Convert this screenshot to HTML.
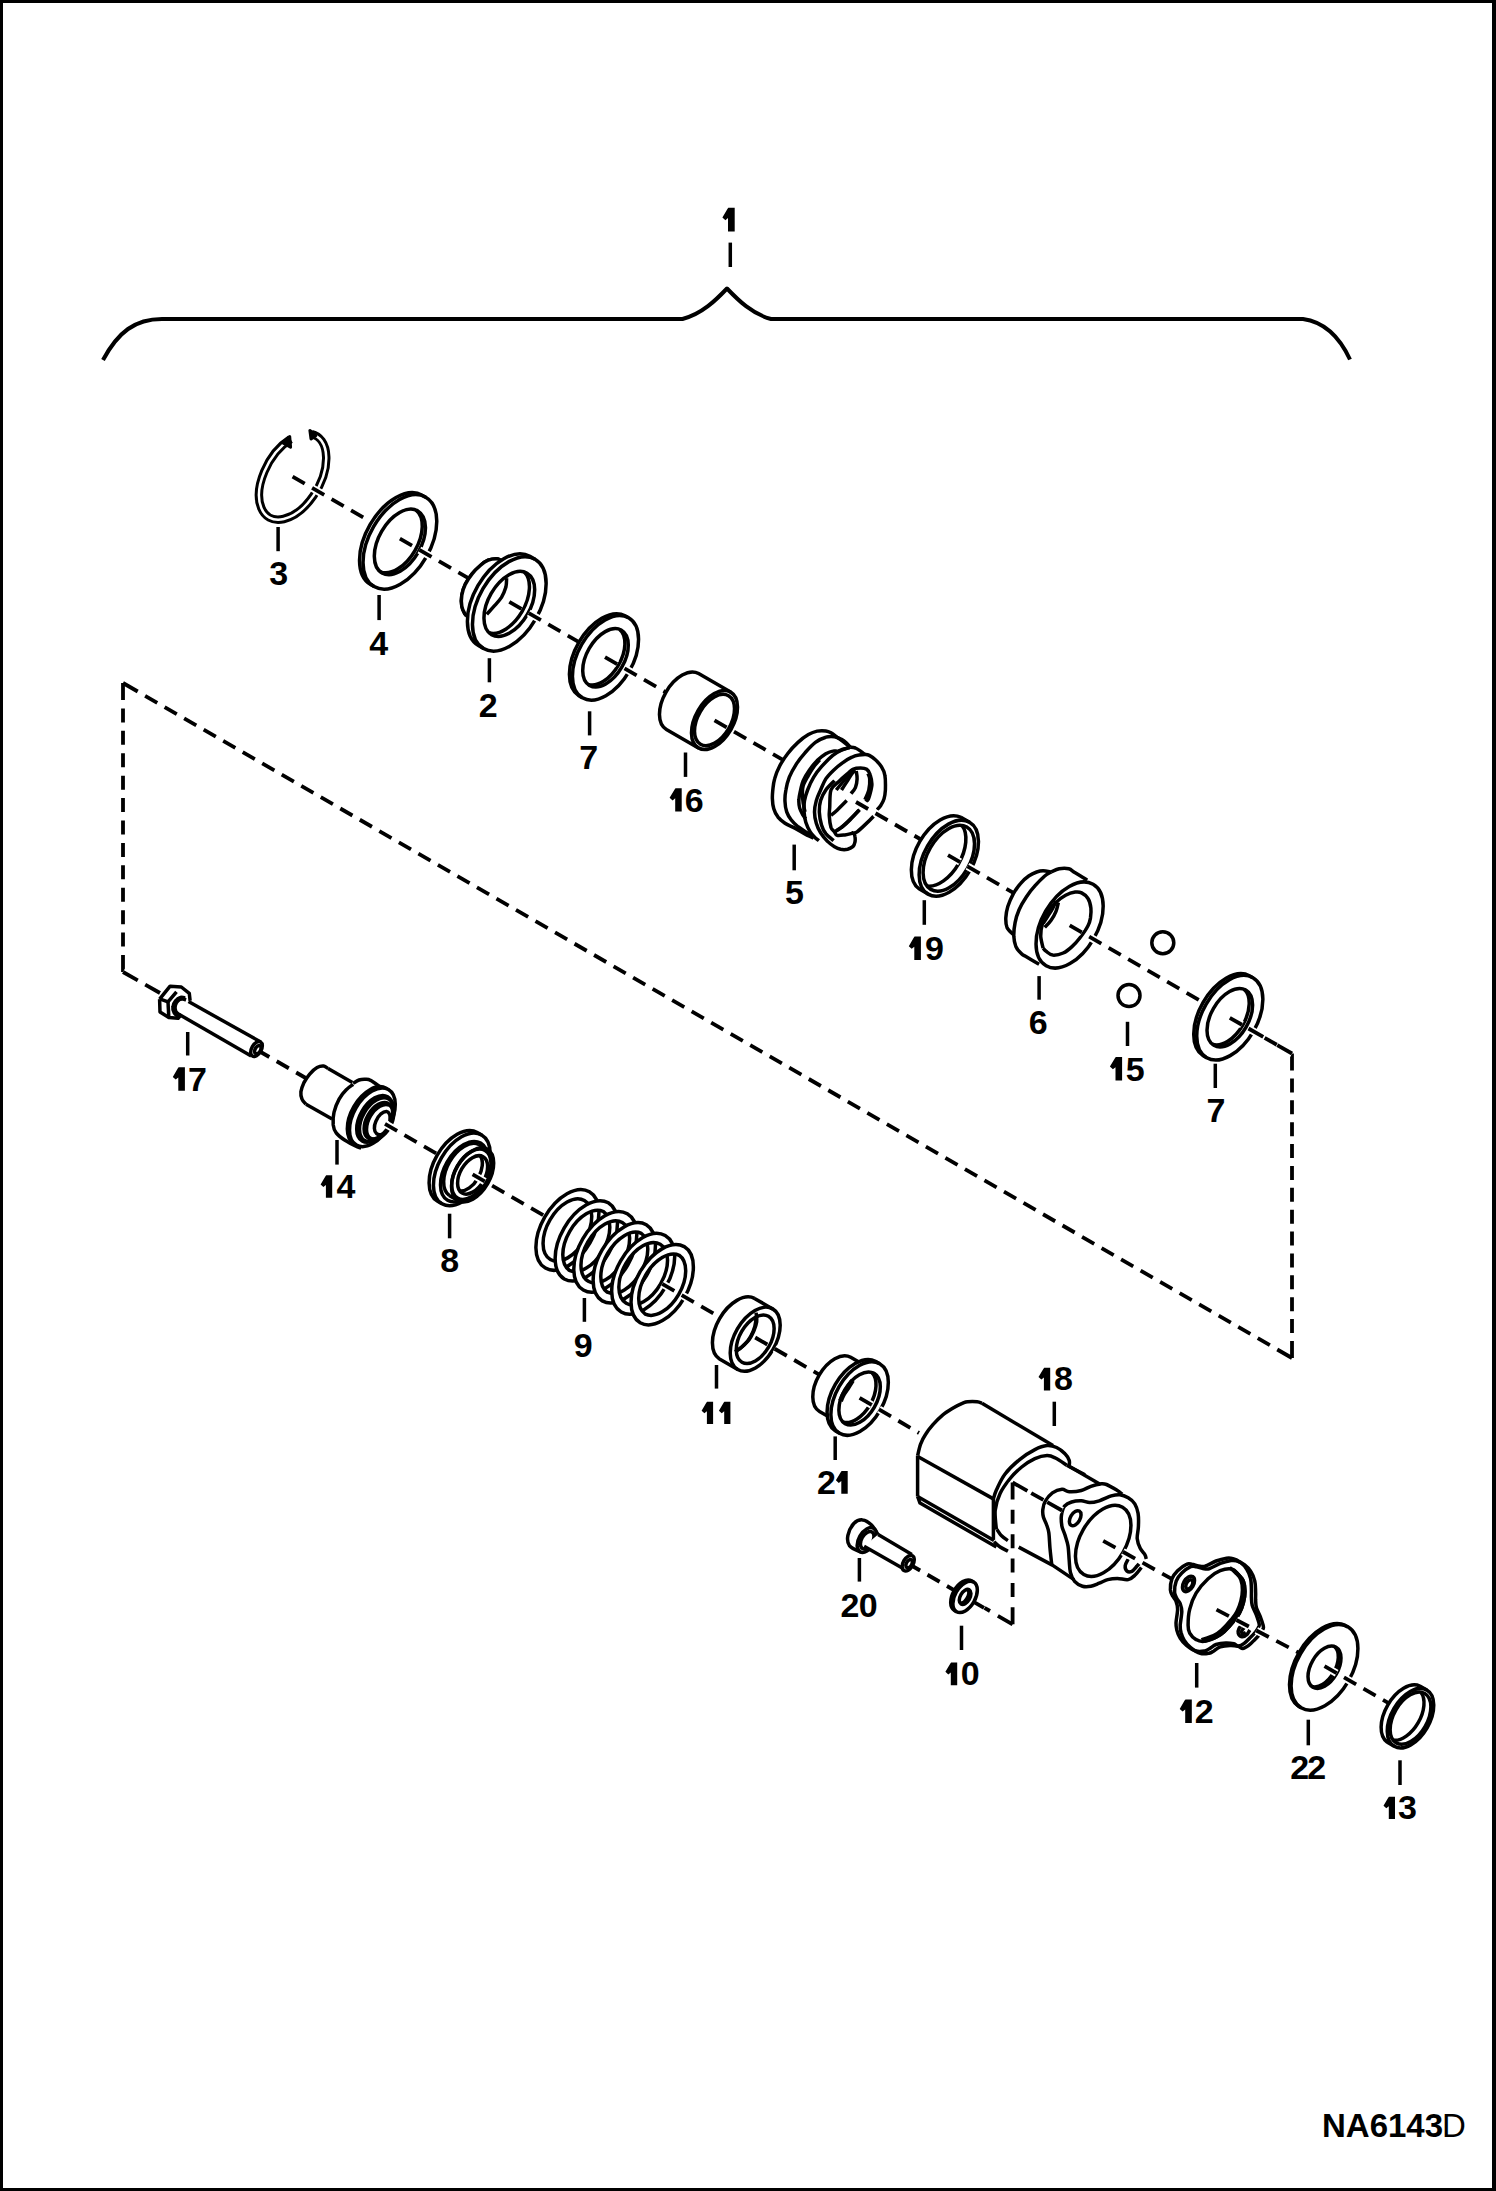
<!DOCTYPE html><html><head><meta charset="utf-8"><style>html,body{margin:0;padding:0;background:#fff}svg{display:block}.d{fill:none;stroke:#000;stroke-width:3.8;stroke-dasharray:14 8.5}.dh{fill:none;stroke:#fff;stroke-width:7.5;stroke-dasharray:14 8.5;}text{font-family:"Liberation Sans",sans-serif;font-weight:bold;font-size:34px;text-anchor:middle;fill:#000;stroke:none}</style></head><body>
<svg width="1496" height="2191" viewBox="0 0 1496 2191">
<rect x="0" y="0" width="1496" height="2191" fill="#fff"/>
<g fill="none" stroke="#000" stroke-width="3.5" stroke-linecap="butt" stroke-linejoin="round">
<path d="M0,0H1496V2191H0Z M3,3V2188H1492V3Z" fill="#000" fill-rule="evenodd" stroke="none"/>
<path stroke-width="4" d="M103,360C118,332 135,319 162,319H682.5C702,314 716,300 727,288.5C738,300 752,314 771,319H1303C1325,322 1340,338 1350,359.5"/>
<path class="dh" d="M123,972L123,683" style="stroke-dasharray:17.00 8.42 14.00 8.42 14.00 8.42 14.00 8.42 14.00 8.42 14.00 8.42 14.00 8.42 14.00 8.42 14.00 8.42 14.00 8.42 14.00 8.42 14.00 8.42 17.00 200.00;stroke-dashoffset:0"/><path class="dh" d="M123,683L1292,1358" style="stroke-dasharray:17.00 8.54 14.00 8.54 14.00 8.54 14.00 8.54 14.00 8.54 14.00 8.54 14.00 8.54 14.00 8.54 14.00 8.54 14.00 8.54 14.00 8.54 14.00 8.54 14.00 8.54 14.00 8.54 14.00 8.54 14.00 8.54 14.00 8.54 14.00 8.54 14.00 8.54 14.00 8.54 14.00 8.54 14.00 8.54 14.00 8.54 14.00 8.54 14.00 8.54 14.00 8.54 14.00 8.54 14.00 8.54 14.00 8.54 14.00 8.54 14.00 8.54 14.00 8.54 14.00 8.54 14.00 8.54 14.00 8.54 14.00 8.54 14.00 8.54 14.00 8.54 14.00 8.54 14.00 8.54 14.00 8.54 14.00 8.54 14.00 8.54 14.00 8.54 14.00 8.54 14.00 8.54 14.00 8.54 14.00 8.54 14.00 8.54 14.00 8.54 14.00 8.54 14.00 8.54 14.00 8.54 14.00 8.54 14.00 8.54 14.00 8.54 14.00 8.54 14.00 8.54 14.00 8.54 17.00 200.00;stroke-dashoffset:0"/><path class="dh" d="M1292,1358L1292,1053.5" style="stroke-dasharray:17.00 7.88 14.00 7.88 14.00 7.88 14.00 7.88 14.00 7.88 14.00 7.88 14.00 7.88 14.00 7.88 14.00 7.88 14.00 7.88 14.00 7.88 14.00 7.88 14.00 7.88 17.00 200.00;stroke-dashoffset:0"/><path class="d" d="M123,972L123,683" style="stroke-dasharray:17.00 8.42 14.00 8.42 14.00 8.42 14.00 8.42 14.00 8.42 14.00 8.42 14.00 8.42 14.00 8.42 14.00 8.42 14.00 8.42 14.00 8.42 14.00 8.42 17.00 200.00;stroke-dashoffset:0"/><path class="d" d="M123,683L1292,1358" style="stroke-dasharray:17.00 8.54 14.00 8.54 14.00 8.54 14.00 8.54 14.00 8.54 14.00 8.54 14.00 8.54 14.00 8.54 14.00 8.54 14.00 8.54 14.00 8.54 14.00 8.54 14.00 8.54 14.00 8.54 14.00 8.54 14.00 8.54 14.00 8.54 14.00 8.54 14.00 8.54 14.00 8.54 14.00 8.54 14.00 8.54 14.00 8.54 14.00 8.54 14.00 8.54 14.00 8.54 14.00 8.54 14.00 8.54 14.00 8.54 14.00 8.54 14.00 8.54 14.00 8.54 14.00 8.54 14.00 8.54 14.00 8.54 14.00 8.54 14.00 8.54 14.00 8.54 14.00 8.54 14.00 8.54 14.00 8.54 14.00 8.54 14.00 8.54 14.00 8.54 14.00 8.54 14.00 8.54 14.00 8.54 14.00 8.54 14.00 8.54 14.00 8.54 14.00 8.54 14.00 8.54 14.00 8.54 14.00 8.54 14.00 8.54 14.00 8.54 14.00 8.54 14.00 8.54 14.00 8.54 17.00 200.00;stroke-dashoffset:0"/><path class="d" d="M1292,1358L1292,1053.5" style="stroke-dasharray:17.00 7.88 14.00 7.88 14.00 7.88 14.00 7.88 14.00 7.88 14.00 7.88 14.00 7.88 14.00 7.88 14.00 7.88 14.00 7.88 14.00 7.88 14.00 7.88 14.00 7.88 17.00 200.00;stroke-dashoffset:0"/>
<path d="M311.6,434.2A47 27.7 -60 1 1 290.5,439.2" stroke-width="8.5"/>
<path d="M311.6,434.2A47 27.7 -60 1 1 290.5,439.2" stroke="#fff" stroke-width="2.5"/>
<path d="M282.9,442.9L289.7,436.5L290.6,447.2Z" stroke-width="3" fill="#000"/>
<path d="M309.9,430.5L311,438.9L315.8,435.7Z" stroke-width="3" fill="#000"/>
<path class="dh" d="M292.6,476.7L400.5,539"/><path class="d" d="M292.6,476.7L400.5,539" />
<path d="M425.7,497.2A51.6 30.4 -60 0 1 374.1,586.6L370.6,584.6A51.6 30.4 -60 0 1 422.2,495.2Z" fill="#fff" stroke="none"/><path d="M370.6,584.6A51.6 30.4 -60 0 1 422.2,495.2M425.7,497.2L422.2,495.2M374.1,586.6L370.6,584.6" /><ellipse cx="399.9" cy="541.9" rx="51.6" ry="30.4" transform="rotate(-60 399.9 541.9)" /><ellipse cx="399.9" cy="541.9" rx="35.8" ry="21.1" transform="rotate(-60 399.9 541.9)" /><path d="M416,510A35.8 21.1 -60 0 1 380.3,571.8" />
<path class="dh" d="M399.9,538.7L510,602.2"/><path class="d" d="M399.9,538.7L510,602.2" />
<path d="M501.5,560.2C500.6,560 498.5,558.8 496.3,558.8C494.1,558.8 490.8,559.2 488.2,560.2C485.7,561.3 483.6,562.7 480.9,565C478.2,567.3 474.6,570.6 472.1,573.8C469.5,577 467.2,580.6 465.4,584.1C463.7,587.7 462.4,591.5 461.8,595.1C461.2,598.8 461.3,603.1 461.8,606.2C462.3,609.2 463.6,611.7 464.7,613.5C465.8,615.4 467.8,616.6 468.4,617.2" />
<path d="M501.5,560.2C501.8,554.8 498.5,558.8 496.3,558.8C494.1,558.8 490.8,559.2 488.2,560.2C485.7,561.3 483.6,562.7 480.9,565C478.2,567.3 474.6,570.6 472.1,573.8C469.5,577 467.2,580.6 465.4,584.1C463.7,587.7 462.4,591.5 461.8,595.1C461.2,598.8 461.3,603.1 461.8,606.2C462.3,609.2 463.6,611.7 464.7,613.5C465.8,615.4 463.5,620.9 468.4,617.2C473.3,613.5 488.6,601 494.1,591.5C499.6,582 501.1,565.7 501.5,560.2Z" fill="#fff" stroke="none"/>
<path d="M501.5,560.2C500.6,560 498.5,558.8 496.3,558.8C494.1,558.8 490.8,559.2 488.2,560.2C485.7,561.3 483.6,562.7 480.9,565C478.2,567.3 474.6,570.6 472.1,573.8C469.5,577 467.2,580.6 465.4,584.1C463.7,587.7 462.4,591.5 461.8,595.1C461.2,598.8 461.3,603.1 461.8,606.2C462.3,609.2 463.6,611.7 464.7,613.5C465.8,615.4 467.8,616.6 468.4,617.2" />
<path d="M535,559.3A51.5 30.4 -60 0 1 483.6,648.5L478.4,645.5A51.5 30.4 -60 0 1 529.9,556.3Z" fill="#fff" stroke="none"/><path d="M478.4,645.5A51.5 30.4 -60 0 1 529.9,556.3M535,559.3L529.9,556.3M483.6,648.5L478.4,645.5" /><ellipse cx="509.3" cy="603.9" rx="51.5" ry="30.4" transform="rotate(-60 509.3 603.9)" /><ellipse cx="509.3" cy="603.9" rx="35.5" ry="20.9" transform="rotate(-60 509.3 603.9)" /><path d="M524.3,572A35.5 20.9 -60 0 1 489.1,632.8" />
<path d="M506.6,578.2C506.5,579.7 506.7,583.9 505.9,587.1C505,590.2 503.4,594.2 501.5,597.4C499.5,600.5 496.6,603.4 494.1,606.2C491.7,609 488,612.9 486.8,614.3" />
<path class="dh" d="M509.3,601.8L605.5,657.4"/><path class="d" d="M509.3,601.8L605.5,657.4" />
<path d="M628.6,617.8A46.2 27.3 -60 0 1 582.4,697.8L578.9,695.8A46.2 27.3 -60 0 1 625.1,615.8Z" fill="#fff" stroke="none"/><path d="M578.9,695.8A46.2 27.3 -60 0 1 625.1,615.8M628.6,617.8L625.1,615.8M582.4,697.8L578.9,695.8" /><ellipse cx="605.5" cy="657.8" rx="46.2" ry="27.3" transform="rotate(-60 605.5 657.8)" /><ellipse cx="605.5" cy="657.8" rx="31.9" ry="18.8" transform="rotate(-60 605.5 657.8)" /><path d="M619.6,629.3A31.9 18.8 -60 0 1 587.9,684.3" />
<path class="dh" d="M605,657.1L715,720.6"/><path class="d" d="M605,657.1L715,720.6" />
<path d="M730.6,692.1A32.2 19 -60 0 1 698.4,747.9L666.4,729.4A32.2 19 -60 0 1 698.6,673.6Z" fill="#fff" stroke="none"/><path d="M666.4,729.4A32.2 19 -60 0 1 698.6,673.6M730.6,692.1L698.6,673.6M698.4,747.9L666.4,729.4" /><ellipse cx="714.5" cy="720" rx="32.2" ry="19" transform="rotate(-60 714.5 720)" /><ellipse cx="714.5" cy="720" rx="28" ry="16.5" transform="rotate(-60 714.5 720)" /><path d="M696.8,709.8A28 16.5 -60 0 0 696.8,709.8" />
<path class="dh" d="M714.5,720.3L860,804.3"/><path class="d" d="M714.5,720.3L860,804.3" />
<path d="M850.2,747.2L843.2,741.5L837.1,737.2L831,732.8L825.8,730.9L817.1,731.1L808.4,734.6L798,742.4L787.6,753.7L779.8,765.8L774.6,778.9L772.8,790L772.4,798.9L773.7,808.4L778,817.1L785,823.2L792.8,827.1L799.8,831L807.6,835.4L813.7,838L827.6,841.4L834.5,846.7L840.6,849.3L847.6,849.3L852.8,846.7L854.9,842.3L854.9,836.2L864.9,824.9L873.6,816.2L880.6,805.8L884,798.9L885.4,790L884.9,775.4L881.4,766.7L875.4,759.8L869.3,755.4L864.9,754.5L860.6,751.1L855.4,748Z" fill="#fff" stroke="none"/>
<path d="M813.7,838C812.6,837.5 809.9,836.5 807.6,835.4C805.3,834.2 802.2,832.4 799.8,831C797.3,829.6 795.3,828.4 792.8,827.1C790.3,825.8 787.4,824.9 785,823.2C782.5,821.5 779.9,819.6 778,817.1C776.2,814.6 774.6,811.5 773.7,808.4C772.7,805.4 772.5,801.9 772.4,798.9C772.2,795.8 772.5,793.3 772.8,790C773.2,786.7 773.4,782.9 774.6,778.9C775.7,774.8 777.6,770 779.8,765.8C781.9,761.6 784.6,757.6 787.6,753.7C790.6,749.8 794.5,745.6 798,742.4C801.5,739.2 805.3,736.4 808.4,734.6C811.6,732.7 814.2,731.7 817.1,731.1C820,730.5 823.5,730.6 825.8,730.9C828.1,731.2 829.2,731.8 831,732.8C832.9,733.9 835.1,735.7 837.1,737.2C839.2,738.6 841,739.8 843.2,741.5C845.4,743.2 849,746.2 850.2,747.2" />
<path d="M811.1,835.4C810.2,834.8 808,833.3 805.8,831.9C803.7,830.4 800.5,828.7 798,826.7C795.6,824.6 793,822.2 791.1,819.7C789.2,817.3 787.7,814.9 786.7,811.9C785.7,808.9 785.1,805.1 785,801.5C784.8,797.8 785.1,794.1 785.9,790C786.6,785.9 787.6,781.5 789.3,777.1C791.1,772.8 793.7,768.2 796.3,764.1C798.9,760 801.8,756.4 805,752.8C808.2,749.2 811.9,745 815.4,742.4C818.9,739.8 822.6,738.1 825.8,737.2C829,736.2 831.9,736.4 834.5,736.7C837.1,737.1 839.4,738.3 841.5,739.3C843.5,740.4 845.2,741.9 846.7,743.2C848.1,744.6 849.6,746.5 850.2,747.2" />
<path d="M850.2,747.2C851,747.3 853.6,747.4 855.4,748C857.1,748.7 859,750 860.6,751.1C862.2,752.2 864.2,754 864.9,754.5" />
<path d="M805.8,818.8C805.4,818.3 804.2,817.1 803.2,815.4C802.2,813.6 800.5,811 799.8,808.4C799,805.8 798.7,802.8 798.9,799.7C799,796.7 799.9,793.2 800.6,790C801.4,786.8 801.8,783.9 803.2,780.6C804.7,777.3 807,773.5 809.3,770.2C811.6,766.9 814.4,763.4 817.1,760.6C819.9,757.9 823.2,755.3 825.8,753.7C828.4,752.1 830.8,751.5 832.8,751.1C834.8,750.6 836.3,751.4 838,751.1C839.7,750.8 841.2,749.9 843.2,749.3C845.2,748.7 849,747.7 850.2,747.4" />
<path d="M805,811.9C804.7,810.4 803.7,806.1 803.2,803.2C802.8,800.3 802.4,797.4 802.4,794.5C802.4,791.6 802.2,789 803.2,785.8C804.2,782.6 806.6,778.7 808.4,775.4C810.3,772.1 812.6,768.4 814.5,765.8C816.4,763.2 818.9,760.8 819.7,759.8" />
<path d="M818.9,840.6C818.3,840.1 816.8,839.4 815.4,838C814,836.5 811.8,834.5 810.2,831.9C808.6,829.3 806.9,825.7 805.8,822.3C804.8,819 804.3,815.5 804.1,811.9C803.9,808.3 804,804.2 804.5,800.6C805.1,796.9 806.1,793.9 807.6,790C809.1,786.1 811.3,781 813.7,777.1C816,773.3 818.3,770.3 821.5,766.7C824.7,763.1 829.4,758.2 832.8,755.4C836.1,752.7 838.7,751.5 841.5,750.2C844.2,748.9 848,748 849.3,747.6" />
<path d="M853.6,832.8C853.9,833.3 854.7,834.6 854.9,836.2C855.2,837.8 855.3,840.6 854.9,842.3C854.6,844 854,845.5 852.8,846.7C851.5,847.8 849.6,848.8 847.6,849.3C845.5,849.7 842.8,849.7 840.6,849.3C838.4,848.8 836.7,848 834.5,846.7C832.3,845.4 829.9,843.8 827.6,841.4C825.2,839.1 822.5,835.8 820.6,832.8C818.7,829.7 817.3,826.7 816.3,823.2C815.3,819.7 814.5,815.7 814.5,811.9C814.5,808.1 815.3,804.2 816.3,800.6C817.3,796.9 819,793.6 820.6,790C822.2,786.4 823.7,782.2 825.8,778.9C828,775.6 830.8,772.9 833.6,770.2C836.5,767.4 840.2,764.5 843.2,762.4C846.2,760.2 849.3,758.4 851.9,757.2C854.5,755.9 856.7,755.4 858.8,755C861,754.5 863.2,754.5 864.9,754.5C866.7,754.6 867.5,754.5 869.3,755.4C871,756.3 873.3,757.9 875.4,759.8C877.4,761.6 879.8,764.1 881.4,766.7C883,769.3 884.3,771.5 884.9,775.4C885.6,779.3 885.5,786.1 885.4,790C885.2,793.9 884.8,796.2 884,798.9C883.3,801.5 881.7,804 880.6,805.8C879.4,807.6 877.7,809.1 877.1,809.7" />
<path d="M833.6,840.6C832.3,839.4 827.9,836.2 825.8,833.6C823.8,831 822.6,828.6 821.5,824.9C820.4,821.3 819.5,816 819.3,811.9C819.2,807.8 819.5,804.2 820.6,800.6C821.7,796.9 823.5,793.3 825.8,790C828.1,786.7 833.1,782.2 834.5,780.6" />
<path d="M873.6,816.2C872.2,817.7 867.7,822.3 864.9,824.9C862.2,827.5 859,830.5 857.1,831.9C855.2,833.3 854.5,833 853.6,833.2C852.8,833.3 852.2,832.8 851.9,832.8" />
<path d="M865.8,801.5C866.2,801 867.5,800.8 868.4,798.9C869.3,796.9 870.4,792.5 871,790C871.6,787.5 872,786.7 871.9,784.1C871.7,781.5 871,777 870.1,774.5C869.3,772.1 868.3,770.4 866.7,769.3C865.1,768.2 862.9,768 860.6,768C858.3,768 854.9,768.4 852.8,769.3C850.6,770.3 849.9,771.6 847.6,773.7C845.2,775.7 841.6,778.8 838.9,781.5C836.1,784.2 832.6,785.7 831,790C829.5,794.3 830,803.2 829.7,807.6C829.4,811.9 829.1,812.9 829.3,816.2C829.5,819.6 830.2,824.9 831,827.5C831.9,830.1 833.5,830.6 834.5,831.9C835.5,833.2 835.4,834.9 837.1,835.4C838.9,835.9 842.6,835.2 844.9,834.9C847.3,834.6 849.6,834 851,833.6C852.5,833.3 853.2,832.9 853.6,832.8" />
<path d="M834.5,831.9C835.7,831.2 838.9,829.6 841.5,827.5C844.1,825.5 847.3,822.6 850.2,819.7C853.1,816.8 857.4,811.8 858.8,810.2" />
<path d="M836.3,830.6C837.4,829.8 840.6,828 843.2,825.8C845.8,823.6 849.1,820.2 851.9,817.5C854.6,814.9 858.4,811 859.7,809.7" />
<path d="M836.3,790C837.4,788.6 840.7,784.5 843.2,781.5C845.7,778.5 849.3,774 851,771.9C852.8,769.9 853.2,769.8 853.6,769.3" />
<path d="M841.5,790C842.5,788.4 845.8,783.3 847.6,780.6C849.3,777.9 850.6,775.4 851.9,773.7C853.2,771.9 854.8,770.8 855.4,770.2" />
<path d="M851,793.6C851.8,792.6 854.4,790 855.4,787.6C856.4,785.1 857,781.6 857.1,778.9C857.3,776.1 856.4,772.4 856.2,771.1" />
<path d="M831,815.4C832.1,814.5 834.5,812.6 837.1,810.2C839.7,807.7 845.1,802.2 846.7,800.6" />
<path d="M864.9,799.7C865.6,798.1 868,793.6 868.8,790.2C869.6,786.7 869.9,781.6 869.7,778.9C869.6,776.1 868.3,774.5 868,773.7" />
<path class="dh" d="M856,802L945,853.4"/><path class="d" d="M856,802L945,853.4" />
<path d="M969.5,822.3A41.5 24.5 -60 0 1 928,894.1L919.4,889.1A41.5 24.5 -60 0 1 960.9,817.3Z" fill="#fff" stroke="none"/><path d="M919.4,889.1A41.5 24.5 -60 0 1 960.9,817.3M969.5,822.3L960.9,817.3M928,894.1L919.4,889.1" /><ellipse cx="948.8" cy="858.2" rx="41.5" ry="24.5" transform="rotate(-60 948.8 858.2)" /><ellipse cx="948.8" cy="858.2" rx="36" ry="21.2" transform="rotate(-60 948.8 858.2)" /><path d="M962,825.4A36 21.2 -60 0 1 927,886" />
<path class="dh" d="M948,855.1L1069.7,925.4"/><path class="d" d="M948,855.1L1069.7,925.4" />
<path d="M1051.1,872L1043.1,870.8L1036.7,872L1028.7,876L1020.7,883.3L1013.4,893.7L1007.8,906.5L1005.8,917.8L1007,927.4L1013.4,934.6L1024.7,955.9L1039.1,964.3L1053.6,969.5L1065.6,965.9L1075.2,960.3L1083.2,953.8L1091.3,944.2L1101.7,924.2L1104.9,912.1L1104.5,900.1L1100.9,889.7L1093.7,882.5L1087.2,880.1L1075.2,872.8L1068.8,868.8L1059.2,868.8Z" fill="#fff" stroke="none"/>
<path d="M1051.1,872C1049.8,871.8 1045.5,870.8 1043.1,870.8C1040.7,870.8 1039.1,871.2 1036.7,872C1034.3,872.9 1031.4,874.2 1028.7,876C1026,877.9 1023.2,880.3 1020.7,883.3C1018.1,886.2 1015.6,889.8 1013.4,893.7C1011.3,897.6 1009.1,902.5 1007.8,906.5C1006.6,910.5 1006,914.3 1005.8,917.8C1005.7,921.2 1005.8,924.6 1007,927.4C1008.3,930.2 1012.4,933.4 1013.4,934.6" />
<path d="M1051.1,872C1050.1,872.7 1047.4,873.8 1044.7,876C1042.1,878.3 1038.2,882.2 1035.1,885.7C1032,889.1 1029,892.9 1026.3,896.9C1023.6,900.9 1020.9,905.5 1019.1,909.7C1017.2,914 1015.9,918.2 1015.1,922.6C1014.2,927 1013.7,932.2 1013.8,936.2C1014,940.2 1014.6,943.7 1015.9,946.6C1017.1,949.6 1019.9,952.2 1021.5,953.8C1023.1,955.5 1022.5,954.5 1025.5,956.3C1028.4,958 1036.8,962.9 1039.1,964.3" />
<path d="M1051.1,872C1052.5,871.5 1056.2,869.4 1059.2,868.8C1062.1,868.3 1066.1,868.2 1068.8,868.8C1071.5,869.5 1072.1,871 1075.2,872.8C1078.3,874.7 1085.2,878.8 1087.2,880.1" />
<ellipse cx="1069.6" cy="925" rx="47" ry="27.7" transform="rotate(-60 1069.6 925)" />
<path d="M1043.1,948.2C1042.7,946.2 1040.9,940.2 1040.7,936.2C1040.6,932.2 1041.1,928.2 1042.3,924.2C1043.5,920.2 1045.7,915.7 1047.9,912.1C1050.2,908.5 1053,905.3 1056,902.5C1058.9,899.7 1062.4,897 1065.6,895.3C1068.8,893.6 1072.5,892.5 1075.2,892.1C1077.9,891.7 1079.5,891.8 1081.6,892.9C1083.8,894 1086.5,896 1088,898.5C1089.6,901 1090.5,904.9 1090.9,908.1C1091.3,911.3 1090.9,914.8 1090.5,917.8C1090,920.7 1089.8,922.4 1088,925.8C1086.3,929.1 1082.7,934.3 1080,937.8C1077.4,941.3 1074.8,944.1 1072,946.6C1069.2,949.2 1066.4,951.6 1063.2,953C1060,954.4 1055.6,955.3 1052.8,955.1C1049.9,954.8 1047.9,952.6 1046.3,951.4C1044.7,950.3 1043.7,948.8 1043.1,948.2" />
<path d="M1058.4,902.5C1058,904 1057.2,908.4 1056,911.3C1054.8,914.3 1053,917.5 1051.1,920.2C1049.3,922.8 1045.8,926.2 1044.7,927.4" />
<path d="M1056,900.9C1055.4,902.1 1054.1,905.6 1052.8,908.1C1051.4,910.7 1049.5,913.6 1047.9,916.1C1046.3,918.7 1043.9,922.2 1043.1,923.4" />
<path class="dh" d="M1069.7,925.4L1228.7,1017.2L1292,1053.5"/><path class="d" d="M1069.7,925.4L1228.7,1017.2L1292,1053.5" />
<circle cx="1162.8" cy="942.7" r="11" fill="#fff"/><circle cx="1129" cy="995.6" r="11" fill="#fff"/>
<path d="M1252.9,977.7A46.2 27.3 -60 0 1 1206.7,1057.7L1203.2,1055.7A46.2 27.3 -60 0 1 1249.4,975.7Z" fill="#fff" stroke="none"/><path d="M1203.2,1055.7A46.2 27.3 -60 0 1 1249.4,975.7M1252.9,977.7L1249.4,975.7M1206.7,1057.7L1203.2,1055.7" /><ellipse cx="1229.8" cy="1017.7" rx="46.2" ry="27.3" transform="rotate(-60 1229.8 1017.7)" /><ellipse cx="1229.8" cy="1017.7" rx="31.9" ry="18.8" transform="rotate(-60 1229.8 1017.7)" /><path d="M1243.9,989.2A31.9 18.8 -60 0 1 1212.2,1044.2" />
<path class="dh" d="M1229.8,1017.8L1248.5,1028.5"/><path class="d" d="M1229.8,1017.8L1248.5,1028.5" />
<path class="dh" d="M1248.5,1028.5L1292,1053.5" style="stroke-dasharray:17.00 16.17 17.00 200.00;stroke-dashoffset:0"/><path class="d" d="M1248.5,1028.5L1292,1053.5" style="stroke-dasharray:17.00 16.17 17.00 200.00;stroke-dashoffset:0"/>
<path class="dh" d="M123,972L160,993" style="stroke-dasharray:17.00 8.54 17.00 200.00;stroke-dashoffset:0"/><path class="d" d="M123,972L160,993" style="stroke-dasharray:17.00 8.54 17.00 200.00;stroke-dashoffset:0"/>
<path class="dh" d="M257.2,1050L372,1116.3"/><path class="d" d="M257.2,1050L372,1116.3" />
<path d="M159.6,999.1L170.1,986.2L181.3,987L189.3,993.4L190.1,1000.7L260.7,1041.6L263.5,1047.2L256.7,1057.6L251.1,1056L178.9,1014.3L178.1,1018.3L168.4,1017.5L160,1011.9Z" fill="#fff" stroke="none"/>
<path d="M159.6,999.1L170.1,986.2L181.3,987L189.3,993.4L190.1,1000.7" />
<path d="M159.6,999.1L160,1011.9L168.8,1017.5L178.1,1018.3L180.1,1015.9" />
<path d="M160.4,999.1L168,1001.9L176.5,991.8" />
<path d="M168,1001.9L168.8,1017.1" />
<path d="M178.1,1016.7C177.4,1016 174.9,1014.3 174.1,1012.7C173.2,1011.1 172.6,1009.1 172.9,1007.1C173.1,1005.1 174.4,1002.3 175.7,1000.7C176.9,999.1 178.9,997.9 180.5,997.5C182.1,997 184.5,997.8 185.3,997.9" />
<path d="M179.7,1015.1C179,1014.4 176.4,1012.7 175.7,1011.1C174.9,1009.5 174.9,1007.2 175.3,1005.5C175.7,1003.7 176.9,1001.7 178.1,1000.7C179.2,999.6 180.7,999.2 182.1,999.1C183.4,998.9 185.4,999.7 186.1,999.9" />
<path d="M188.5,1001.5L260.7,1042" />
<path d="M178.9,1014.3L251.2,1055.9" />
<ellipse cx="256.5" cy="1049" rx="8.2" ry="4.8" transform="rotate(-60 256.5 1049)" fill="#fff"/>
<ellipse cx="257.8" cy="1049.7" rx="4.5" ry="2.7" transform="rotate(-60 257.8 1049.7)" />
<path d="M352.4,1082.6C347.2,1080.7 332.9,1071.4 328.1,1068.6C323.3,1065.8 325.5,1066.2 323.7,1066C321.8,1065.8 319.4,1066.2 317.1,1067.5C314.7,1068.8 311.9,1071.5 309.7,1074.1C307.5,1076.7 305.3,1080 303.8,1082.9C302.4,1085.9 301.2,1089.1 300.9,1091.8C300.6,1094.5 301.1,1097 302,1099.1C302.8,1101.2 301,1101 306,1104.3C311.1,1107.6 327.6,1115.5 332.1,1119C336.7,1122.4 332.6,1122.5 333.2,1124.9C333.9,1127.2 334.2,1130.4 336.2,1132.9C338.1,1135.5 340.8,1137.8 345,1140.3C349.2,1142.8 355.4,1157 361.2,1148C366.9,1139.1 378.8,1098.1 379.6,1086.6C380.3,1075.2 369,1080.4 365.6,1079.3C362.2,1078.2 361.2,1079.4 359,1080C356.8,1080.6 357.5,1084.5 352.4,1082.6Z" fill="#fff" stroke="none"/>
<path d="M352.4,1082.6L328.1,1068.6" />
<path d="M328.1,1068.6C327.4,1068.2 325.5,1066.2 323.7,1066C321.8,1065.8 319.4,1066.2 317.1,1067.5C314.7,1068.8 311.9,1071.5 309.7,1074.1C307.5,1076.7 305.3,1080 303.8,1082.9C302.4,1085.9 301.2,1089.1 300.9,1091.8C300.6,1094.5 301.1,1097 302,1099.1C302.8,1101.2 305.4,1103.4 306,1104.3" />
<path d="M306,1104.3L332.1,1119" />
<path d="M353.1,1084.4C352,1085.3 348.8,1087.1 346.5,1089.6C344.1,1092 341.2,1095.3 339.1,1099.1C337,1102.9 335,1108.1 334,1112.4C333,1116.6 332.9,1121.4 333.2,1124.9C333.6,1128.3 334.2,1130.4 336.2,1132.9C338.1,1135.5 341.4,1138 345,1140.3C348.6,1142.6 354.8,1145.6 357.5,1146.9C360.2,1148.2 360.6,1147.8 361.2,1148" />
<path d="M353.1,1083.3C354.1,1082.8 356.9,1080.7 359,1080C361.1,1079.3 363.6,1079.2 365.6,1079.3C367.5,1079.3 368.4,1079.1 370.7,1080.4C373.1,1081.6 378.1,1085.6 379.6,1086.6" />
<ellipse cx="370.2" cy="1116" rx="32" ry="18.9" transform="rotate(-60 370.2 1116)" fill="#fff"/>
<ellipse cx="372.4" cy="1117.3" rx="32" ry="18.9" transform="rotate(-60 372.4 1117.3)" fill="#fff"/>
<ellipse cx="374.9" cy="1118.8" rx="25.5" ry="15" transform="rotate(-60 374.9 1118.8)" fill="#fff"/>
<ellipse cx="376.7" cy="1119.8" rx="24" ry="14.2" transform="rotate(-60 376.7 1119.8)" />
<ellipse cx="378.4" cy="1120.8" rx="20" ry="11.8" transform="rotate(-60 378.4 1120.8)" fill="#fff"/>
<ellipse cx="380.1" cy="1121.8" rx="19" ry="11.2" transform="rotate(-60 380.1 1121.8)" />
<path d="M386.9,1130C386.1,1130.7 383.5,1133.8 381.8,1134.4C380,1135 377.8,1134.7 376.6,1133.7C375.4,1132.7 374.5,1130.6 374.4,1128.5C374.3,1126.4 374.8,1123.6 375.9,1121.2C377,1118.7 379.2,1115.4 381,1113.8C382.9,1112.2 385.4,1111.4 386.9,1111.6C388.4,1111.9 389.4,1113.7 389.9,1115.3C390.3,1116.9 389.9,1120.2 389.9,1121.2" />
<path class="dh" d="M385,1123.8L474,1175.2"/><path class="d" d="M385,1123.8L474,1175.2" />
<path d="M481.7,1135A39.7 23.4 -60 0 1 441.9,1203.8L437.6,1201.3A39.7 23.4 -60 0 1 477.3,1132.5Z" fill="#fff" stroke="none"/><path d="M437.6,1201.3A39.7 23.4 -60 0 1 477.3,1132.5M481.7,1135L477.3,1132.5M441.9,1203.8L437.6,1201.3" /><ellipse cx="461.8" cy="1169.4" rx="39.7" ry="23.4" transform="rotate(-60 461.8 1169.4)" />
<ellipse cx="464.1" cy="1171.7" rx="33" ry="19.5" transform="rotate(-60 464.1 1171.7)" />
<path d="M487.4,1149.4A29.5 17.4 -60 0 1 457.9,1200.4L449.2,1195.4A29.5 17.4 -60 0 1 478.7,1144.4Z" fill="#fff" stroke="none"/><path d="M449.2,1195.4A29.5 17.4 -60 0 1 478.7,1144.4M487.4,1149.4L478.7,1144.4M457.9,1200.4L449.2,1195.4" /><ellipse cx="472.6" cy="1174.9" rx="29.5" ry="17.4" transform="rotate(-60 472.6 1174.9)" />
<ellipse cx="471.3" cy="1174.2" rx="27.5" ry="16.2" transform="rotate(-60 471.3 1174.2)" />
<ellipse cx="472.6" cy="1174.9" rx="21" ry="12.4" transform="rotate(-60 472.6 1174.9)" /><path d="M480.2,1155.8A21 12.4 -60 0 1 459.8,1191" />
<path class="dh" d="M472.6,1174.4L690,1299.9"/><path class="d" d="M472.6,1174.4L690,1299.9" />
<path d="M684.2,1246.6A44 26 -60 0 1 640.2,1322.8L545.4,1268.1A44 26 -60 0 1 589.4,1191.8Z" fill="#fff" stroke="none"/>
<path d="M589.4,1191.8A44 26 -60 0 1 545.4,1268.1A44 26 -60 0 1 589.4,1191.8ZM584.4,1200.5A34 20.1 -60 0 1 550.4,1259.4A34 20.1 -60 0 1 584.4,1200.5Z" fill="#fff" fill-rule="evenodd"/>
<path d="M608.3,1202.8A44 26 -60 0 1 564.3,1279A44 26 -60 0 1 608.3,1202.8ZM603.3,1211.5A34 20.1 -60 0 1 569.3,1270.3A34 20.1 -60 0 1 603.3,1211.5Z" fill="#fff" fill-rule="evenodd"/>
<path d="M627.3,1213.7A44 26 -60 0 1 583.3,1290A44 26 -60 0 1 627.3,1213.7ZM622.3,1222.4A34 20.1 -60 0 1 588.3,1281.3A34 20.1 -60 0 1 622.3,1222.4Z" fill="#fff" fill-rule="evenodd"/>
<path d="M646.3,1224.7A44 26 -60 0 1 602.3,1300.9A44 26 -60 0 1 646.3,1224.7ZM641.3,1233.4A34 20.1 -60 0 1 607.3,1292.2A34 20.1 -60 0 1 641.3,1233.4Z" fill="#fff" fill-rule="evenodd"/>
<path d="M665.2,1235.6A44 26 -60 0 1 621.2,1311.9A44 26 -60 0 1 665.2,1235.6ZM660.2,1244.3A34 20.1 -60 0 1 626.2,1303.2A34 20.1 -60 0 1 660.2,1244.3Z" fill="#fff" fill-rule="evenodd"/>
<path d="M684.2,1246.6A44 26 -60 0 1 640.2,1322.8A44 26 -60 0 1 684.2,1246.6ZM679.2,1255.3A34 20.1 -60 0 1 645.2,1314.1A34 20.1 -60 0 1 679.2,1255.3Z" fill="#fff" fill-rule="evenodd"/>
<path class="dh" d="M662.2,1283.8L755.2,1337.5"/><path class="d" d="M662.2,1283.8L755.2,1337.5" />
<path d="M772.7,1308.9A35 20.6 -60 0 1 737.7,1369.5L719.5,1359A35 20.6 -60 0 1 754.5,1298.4Z" fill="#fff" stroke="none"/><path d="M719.5,1359A35 20.6 -60 0 1 754.5,1298.4M772.7,1308.9L754.5,1298.4M737.7,1369.5L719.5,1359" /><ellipse cx="755.2" cy="1339.2" rx="35" ry="20.6" transform="rotate(-60 755.2 1339.2)" /><ellipse cx="755.2" cy="1339.2" rx="26.5" ry="15.6" transform="rotate(-60 755.2 1339.2)" /><path d="M755.9,1316.9A26.5 15.6 -60 0 1 736.3,1351" />
<path d="M756.1,1312.7C756.2,1314.2 757.1,1318.8 756.7,1321.8C756.3,1324.8 755.1,1328 753.9,1330.9C752.6,1333.8 751.3,1336.8 749.3,1339.4C747.3,1342.1 744.3,1344.7 741.9,1346.8C739.6,1348.9 736.2,1351.1 735.1,1351.9" />
<path class="dh" d="M755.2,1337.5L858.5,1397.2"/><path class="d" d="M755.2,1337.5L858.5,1397.2" />
<path d="M870.9,1369A31.2 18.4 -60 0 1 839.7,1423L819.5,1411.4A31.2 18.4 -60 0 1 850.7,1357.3Z" fill="#fff" stroke="none"/><path d="M819.5,1411.4A31.2 18.4 -60 0 1 850.7,1357.3M870.9,1369L850.7,1357.3M839.7,1423L819.5,1411.4" /><ellipse cx="855.3" cy="1396" rx="31.2" ry="18.4" transform="rotate(-60 855.3 1396)" />
<path d="M879.7,1363.7A40.2 23.7 -60 0 1 839.5,1433.3L835.2,1430.8A40.2 23.7 -60 0 1 875.4,1361.2Z" fill="#fff" stroke="none"/><path d="M835.2,1430.8A40.2 23.7 -60 0 1 875.4,1361.2M879.7,1363.7L875.4,1361.2M839.5,1433.3L835.2,1430.8" /><ellipse cx="859.6" cy="1398.5" rx="40.2" ry="23.7" transform="rotate(-60 859.6 1398.5)" /><ellipse cx="859.6" cy="1398.5" rx="29" ry="17.1" transform="rotate(-60 859.6 1398.5)" /><path d="M871.8,1372.4A29 17.1 -60 0 1 843.1,1422.1" />
<path d="M852.5,1380.5C851.8,1381.6 849.8,1384.8 848.3,1387.1C846.8,1389.4 844.8,1392 843.5,1394.3C842.2,1396.6 841,1399.9 840.5,1401" stroke-width="5"/>
<path class="dh" d="M859.6,1397.8L919,1433"/><path class="d" d="M859.6,1397.8L919,1433" />
<path d="M917.6,1455.6L920.6,1444.1L925.5,1434.5L932.7,1424.9L942.3,1415.3L953.1,1408L962.8,1403.2L967.6,1401.8L977.2,1401.8L982,1403.2L1053,1445.6L1065,1453.8L1069.2,1460.4L1069.2,1465.8L1068.6,1465.9L1100.5,1484.5L1122.2,1494.1L1134.8,1503.8L1138.4,1526.6L1137.2,1538.7L1140.2,1548.3L1146.2,1559.1L1141.4,1567.5L1128.2,1579.6L1107.7,1579.6L1090.9,1586.2L1082.5,1586.2L1074.6,1581.4L1052.4,1565.1L1018.7,1547.1L1007.9,1551.2L996.4,1545.9L917.6,1496.5Z" fill="#fff" stroke="none"/>
<path d="M917.6,1455.6C918.1,1453.7 919.3,1447.7 920.6,1444.1C921.9,1440.6 923.4,1437.7 925.5,1434.5C927.5,1431.3 929.9,1428.1 932.7,1424.9C935.5,1421.7 938.9,1418.1 942.3,1415.3C945.7,1412.5 949.7,1410.1 953.1,1408C956.5,1406 960.3,1404.3 962.8,1403.2C965.2,1402.2 965.2,1402 967.6,1401.8C970,1401.6 974.8,1401.6 977.2,1401.8C979.6,1402 981.2,1403 982,1403.2" />
<path d="M993.4,1498.9C993.9,1497.4 994.5,1494 996.4,1489.9C998.4,1485.8 1001.1,1479.2 1004.9,1474.2C1008.7,1469.2 1014.3,1463.9 1019.3,1459.8C1024.3,1455.7 1030.3,1451.9 1034.9,1449.6C1039.6,1447.2 1043.4,1445.9 1047,1445.6C1050.6,1445.2 1053.6,1446.2 1056.6,1447.5C1059.6,1448.9 1062.9,1451.6 1065,1453.8C1067.1,1455.9 1068.5,1458.4 1069.2,1460.4C1069.9,1462.4 1069.2,1464.9 1069.2,1465.8" />
<path d="M996.4,1529.6C996.2,1526.4 994.6,1516.3 995.2,1510.3C995.8,1504.3 997.6,1498.7 1000.1,1493.5C1002.5,1488.3 1006.1,1483.5 1009.7,1479C1013.3,1474.6 1017.5,1470.4 1021.7,1467C1025.9,1463.6 1030.7,1460.5 1034.9,1458.6C1039.2,1456.7 1043.6,1455.7 1047,1455.6C1050.4,1455.5 1052.1,1456.4 1055.4,1458C1058.7,1459.6 1064.9,1464 1066.8,1465.2" />
<path d="M997,1529.6C997.7,1530.6 999.5,1533.7 1001.3,1535.6C1003.1,1537.4 1006.8,1539.8 1007.9,1540.6" />
<path d="M994,1541.8C995,1542.7 997.7,1545.5 1000.1,1547C1002.4,1548.6 1006.6,1550.5 1007.9,1551.2" />
<path d="M982,1403.2L1053,1445.6" />
<path d="M917.6,1455.6L917.6,1496.5" />
<path d="M918.2,1456.8L993.4,1498.9" />
<path d="M993.4,1498.9L993.4,1539.8" />
<path d="M917.6,1496.5L994,1540.4" />
<path d="M917.6,1496.5L920,1503.1L996.4,1547" />
<path d="M1066.8,1465.2L1085,1474.8" />
<path d="M1068.6,1465.9L1100.5,1484.5" />
<path d="M1018.7,1547.1L1052.4,1565.1L1074,1579.6" />
<path d="M1051.8,1565.1C1051.5,1562.3 1050.5,1553.7 1050,1548.3C1049.5,1542.9 1049.4,1536.7 1048.8,1532.6C1048.2,1528.6 1047.3,1526.8 1046.4,1524.2C1045.5,1521.6 1044,1519.4 1043.4,1517C1042.8,1514.6 1042.5,1512.4 1042.8,1509.8C1043.1,1507.2 1043.6,1504.2 1045.2,1501.4C1046.8,1498.6 1049.6,1494.9 1052.4,1492.9C1055.2,1490.9 1059.2,1489.5 1062,1489.3C1064.8,1489.1 1066,1491.5 1069.2,1491.7C1072.4,1491.9 1077.6,1491.4 1081.3,1490.5C1084.9,1489.6 1087.7,1487.4 1090.9,1486.3C1094.1,1485.2 1097.9,1484.2 1100.5,1483.9C1103.1,1483.6 1103.7,1483.4 1106.5,1484.5C1109.3,1485.6 1114.7,1488.9 1117.4,1490.5C1120,1492.1 1121.4,1493.5 1122.2,1494.1" />
<path d="M1062,1512.2C1062.4,1511.2 1062.8,1507.9 1064.4,1506.2C1066,1504.5 1068.8,1502.9 1071.6,1502C1074.4,1501.1 1078.2,1500.7 1081.3,1500.8C1084.3,1500.9 1086.7,1502.6 1089.7,1502.6C1092.7,1502.6 1095.7,1501.9 1099.3,1500.8C1102.9,1499.7 1107.9,1497 1111.3,1495.9C1114.7,1494.9 1117,1494.4 1119.8,1494.7C1122.6,1495 1125.7,1496.3 1128.2,1497.8C1130.7,1499.3 1133.2,1501.2 1134.8,1503.8C1136.4,1506.4 1137.4,1509.6 1138.1,1513.4C1138.7,1517.2 1138.6,1522.4 1138.4,1526.6C1138.3,1530.8 1136.9,1535.1 1137.2,1538.7C1137.5,1542.3 1138.9,1545.6 1140.2,1548.3C1141.5,1551 1144,1553.1 1145,1554.9C1146,1556.7 1146,1558.4 1146.2,1559.1" />
<path d="M1141.4,1567.5C1140.4,1568.7 1137.6,1572.8 1135.4,1574.8C1133.2,1576.8 1131.2,1579 1128.2,1579.6C1125.2,1580.2 1120.8,1578.4 1117.4,1578.4C1113.9,1578.4 1110.7,1578.8 1107.7,1579.6C1104.7,1580.4 1102.1,1582.1 1099.3,1583.2C1096.5,1584.3 1093.7,1585.7 1090.9,1586.2C1088.1,1586.7 1085.2,1587 1082.5,1586.2C1079.8,1585.4 1076.6,1583.7 1074.6,1581.4C1072.6,1579.1 1071.3,1575.9 1070.4,1572.4C1069.5,1568.8 1069.6,1564.7 1069.2,1560.3C1068.8,1555.9 1068.7,1550.1 1068,1545.9C1067.3,1541.7 1066,1538.3 1065,1535.1C1064,1531.8 1062.6,1529.4 1062,1526.6C1061.4,1523.8 1061.2,1520.6 1061.2,1518.2C1061.2,1515.8 1061.9,1513.2 1062,1512.2" />
<path d="M1128.2,1559.1C1127.7,1560.2 1125.4,1563.7 1125.2,1565.7C1125,1567.7 1125.9,1570.2 1127,1571.2C1128.1,1572.1 1130.1,1572.2 1131.8,1571.4C1133.4,1570.6 1135.6,1567.6 1136.8,1566.3C1138.1,1565.1 1138.7,1564.3 1139,1563.9" />
<ellipse cx="1075.2" cy="1518.2" rx="8.2" ry="4.8" transform="rotate(-60 1075.2 1518.2)" />
<ellipse cx="1103.2" cy="1540.8" rx="38.8" ry="22.9" transform="rotate(-60 1103.2 1540.8)" />
<path class="dh" d="M1103.2,1540.8L1216.5,1603.8"/><path class="d" d="M1103.2,1540.8L1216.5,1603.8" />
<path d="M1170.4,1589.9C1170.3,1587 1170.8,1581.9 1172,1578.7C1173.2,1575.5 1175.2,1573.1 1177.6,1570.7C1180.1,1568.3 1184.1,1565.3 1186.5,1564.3C1188.9,1563.2 1190.1,1564 1192.1,1564.3C1194.1,1564.5 1196.4,1565.7 1198.5,1566C1200.6,1566.3 1202,1567.1 1204.9,1566.3C1207.9,1565.4 1212.5,1562.4 1216.1,1561C1219.8,1559.7 1223.9,1558.7 1226.6,1558.2C1229.2,1557.8 1229.9,1557.8 1232.2,1558.5C1234.5,1559.1 1237.8,1560.5 1240.2,1562.2C1242.6,1564 1244.9,1566.3 1246.6,1569.1C1248.4,1571.8 1249.8,1575.3 1250.6,1578.7C1251.4,1582 1251.3,1586 1251.4,1589.1C1251.6,1592.2 1251.3,1594.5 1251.4,1597.1C1251.6,1599.8 1251.4,1602.2 1252.2,1605.2C1253,1608.1 1255.2,1612 1256.3,1614.8C1257.3,1617.6 1258.2,1620.1 1258.7,1622C1259.1,1623.9 1259.6,1624.3 1259.1,1626C1258.5,1627.7 1257,1630 1255.5,1632C1253.9,1634 1251.7,1636.2 1249.8,1638C1248,1639.9 1246.1,1641.9 1244.2,1643.3C1242.4,1644.6 1240.3,1646 1238.6,1646.1C1236.9,1646.2 1235.9,1644.3 1233.8,1643.8C1231.7,1643.3 1228.7,1642.9 1225.8,1643C1222.8,1643.1 1218.8,1643.6 1216.1,1644.5C1213.5,1645.4 1211.6,1647.4 1209.7,1648.5C1207.9,1649.5 1207.2,1650.5 1204.9,1650.9C1202.6,1651.3 1199.2,1652 1196.1,1651C1193,1650.1 1189.1,1647.4 1186.5,1645.3C1183.8,1643.1 1181.7,1640.6 1180.1,1638C1178.4,1635.5 1177.5,1632.6 1176.8,1630C1176.2,1627.5 1175.9,1626.3 1176,1622.8C1176.2,1619.3 1177.6,1612.8 1177.6,1609.2C1177.6,1605.6 1176.8,1603.3 1176,1601.1C1175.2,1599 1173.8,1598.2 1172.8,1596.3C1171.9,1594.5 1170.6,1592.9 1170.4,1589.9Z" fill="#fff"/>
<path d="M1174.6,1592.3C1174.5,1589.4 1175,1584.3 1176.2,1581.1C1177.4,1577.9 1179.4,1575.5 1181.8,1573.1C1184.3,1570.7 1188.3,1567.7 1190.7,1566.7C1193.1,1565.6 1194.3,1566.4 1196.3,1566.7C1198.3,1566.9 1200.6,1568.1 1202.7,1568.4C1204.8,1568.7 1206.2,1569.5 1209.1,1568.7C1212.1,1567.8 1216.7,1564.8 1220.3,1563.4C1224,1562.1 1228.1,1561.1 1230.8,1560.6C1233.4,1560.2 1234.1,1560.2 1236.4,1560.9C1238.7,1561.5 1242,1562.9 1244.4,1564.6C1246.8,1566.4 1249.1,1568.7 1250.8,1571.5C1252.6,1574.2 1254,1577.7 1254.8,1581.1C1255.6,1584.4 1255.5,1588.4 1255.6,1591.5C1255.8,1594.6 1255.5,1596.9 1255.6,1599.5C1255.8,1602.2 1255.6,1604.6 1256.4,1607.6C1257.2,1610.5 1259.4,1614.4 1260.5,1617.2C1261.5,1620 1262.4,1622.5 1262.9,1624.4C1263.3,1626.3 1263.8,1626.7 1263.3,1628.4C1262.7,1630.1 1261.2,1632.4 1259.7,1634.4C1258.1,1636.4 1255.9,1638.6 1254,1640.4C1252.2,1642.3 1250.3,1644.3 1248.4,1645.7C1246.6,1647 1244.5,1648.4 1242.8,1648.5C1241.1,1648.6 1240.1,1646.7 1238,1646.2C1235.9,1645.7 1232.9,1645.3 1230,1645.4C1227,1645.5 1223,1646 1220.3,1646.9C1217.7,1647.8 1215.8,1649.8 1213.9,1650.9C1212.1,1651.9 1211.4,1652.9 1209.1,1653.3C1206.8,1653.7 1203.4,1654.4 1200.3,1653.4C1197.2,1652.5 1193.3,1649.8 1190.7,1647.7C1188,1645.5 1185.9,1643 1184.3,1640.4C1182.6,1637.9 1181.7,1635 1181,1632.4C1180.4,1629.9 1180.1,1628.7 1180.2,1625.2C1180.4,1621.7 1181.8,1615.2 1181.8,1611.6C1181.8,1608 1181,1605.7 1180.2,1603.5C1179.4,1601.4 1178,1600.6 1177,1598.7C1176.1,1596.9 1174.8,1595.3 1174.6,1592.3Z" />
<path d="M1188.1,1625.2C1188.1,1621.2 1188.3,1614.5 1189.7,1609.2C1191,1603.8 1193,1598.2 1196.1,1593.1C1199.2,1588 1204.1,1582.4 1208.1,1578.7C1212.1,1574.9 1216.1,1572.3 1220.2,1570.7C1224.2,1569.1 1229.1,1568.4 1232.2,1569.1C1235.3,1569.7 1236.7,1572.7 1238.6,1574.7C1240.5,1576.7 1242.4,1578.3 1243.4,1581.1C1244.5,1583.9 1245,1587.9 1245,1591.5C1245,1595.1 1244.4,1599.1 1243.4,1602.8C1242.5,1606.4 1241,1610.1 1239.4,1613.2C1237.8,1616.3 1236.3,1618.1 1233.8,1621.2C1231.3,1624.3 1227.1,1629 1224.2,1631.6C1221.2,1634.3 1219.5,1635.6 1216.1,1637.2C1212.8,1638.8 1207.5,1640.9 1204.1,1641.3C1200.8,1641.7 1198.5,1641 1196.1,1639.6C1193.7,1638.3 1191,1635.6 1189.7,1633.2C1188.3,1630.8 1188.1,1629.2 1188.1,1625.2Z" />
<path d="M1232.2,1569.1C1233.3,1570 1236.7,1572.7 1238.6,1574.7C1240.5,1576.7 1242.4,1578.3 1243.4,1581.1C1244.5,1583.9 1245,1587.9 1245,1591.5C1245,1595.1 1244.4,1599.1 1243.4,1602.8C1242.5,1606.4 1241,1610.1 1239.4,1613.2C1237.8,1616.3 1236.3,1618.1 1233.8,1621.2C1231.3,1624.3 1227.1,1629 1224.2,1631.6C1221.2,1634.3 1219.5,1635.6 1216.1,1637.2C1212.8,1638.8 1206.1,1640.6 1204.1,1641.3" />
<path d="M1229.6,1567.6C1230.7,1568.5 1234.1,1571.2 1236,1573.2C1237.9,1575.2 1239.8,1576.8 1240.8,1579.6C1241.9,1582.4 1242.4,1586.4 1242.4,1590C1242.4,1593.6 1241.8,1597.6 1240.8,1601.3C1239.9,1604.9 1238.4,1608.6 1236.8,1611.7C1235.2,1614.8 1233.7,1616.6 1231.2,1619.7C1228.7,1622.8 1224.5,1627.5 1221.6,1630.1C1218.6,1632.8 1216.9,1634.1 1213.5,1635.7C1210.2,1637.3 1203.5,1639.1 1201.5,1639.8" />
<ellipse cx="1188.5" cy="1583.9" rx="8.4" ry="5" transform="rotate(-60 1188.5 1583.9)" />
<ellipse cx="1189.3" cy="1584.4" rx="5" ry="2.9" transform="rotate(-60 1189.3 1584.4)" />
<path d="M1242.6,1624.4C1242,1625.1 1239.7,1626.9 1239,1628.4C1238.3,1629.9 1237.7,1631.8 1238.2,1633.2C1238.7,1634.6 1240.4,1636.6 1241.8,1636.8C1243.2,1637.1 1245.3,1636 1246.6,1634.8C1248,1633.7 1249.3,1630.8 1249.8,1630" />
<path d="M1245,1626.8C1244.5,1627.5 1242.2,1629.6 1241.8,1630.8C1241.4,1632 1241.9,1633.8 1242.6,1634C1243.3,1634.3 1245.3,1632.7 1245.8,1632.4" />
<path class="dh" d="M1216.5,1609.6L1324,1665.9"/><path class="d" d="M1216.5,1609.6L1324,1665.9" />
<path d="M1347.8,1626.9A46.7 27.6 -60 0 1 1301.2,1707.7L1298.6,1706.2A46.7 27.6 -60 0 1 1345.3,1625.4Z" fill="#fff" stroke="none"/><path d="M1298.6,1706.2A46.7 27.6 -60 0 1 1345.3,1625.4M1347.8,1626.9L1345.3,1625.4M1301.2,1707.7L1298.6,1706.2" /><ellipse cx="1324.5" cy="1667.3" rx="46.7" ry="27.6" transform="rotate(-60 1324.5 1667.3)" /><ellipse cx="1324.5" cy="1667.3" rx="23.1" ry="13.6" transform="rotate(-60 1324.5 1667.3)" /><path d="M1334.7,1646.7A23.1 13.6 -60 0 1 1311.7,1686.4" />
<path class="dh" d="M1324.5,1666.2L1407,1713.8"/><path class="d" d="M1324.5,1666.2L1407,1713.8" />
<path d="M1426.8,1690.1A32.5 19.2 -60 0 1 1394.2,1746.3L1387.3,1742.3A32.5 19.2 -60 0 1 1419.8,1686.1Z" fill="#fff" stroke="none"/><path d="M1387.3,1742.3A32.5 19.2 -60 0 1 1419.8,1686.1M1426.8,1690.1L1419.8,1686.1M1394.2,1746.3L1387.3,1742.3" /><ellipse cx="1410.5" cy="1718.2" rx="32.5" ry="19.2" transform="rotate(-60 1410.5 1718.2)" /><ellipse cx="1410.5" cy="1718.2" rx="28.5" ry="16.8" transform="rotate(-60 1410.5 1718.2)" /><path d="M1420.9,1692.2A28.5 16.8 -60 0 1 1393.2,1740.2" />
<path class="dh" d="M908,1563.5L965.1,1596.5"/><path class="d" d="M908,1563.5L965.1,1596.5" />
<path d="M878.1,1534.6C877,1533 874,1527.5 871.5,1525C868.9,1522.5 865.6,1520.1 862.6,1519.9C859.7,1519.6 856.3,1521 853.8,1523.5C851.4,1526.1 848.7,1531.6 847.9,1535.3C847.2,1539 847.5,1542.9 849.4,1545.6C851.4,1548.3 857.3,1550.6 859.7,1551.5C862.2,1552.3 863.4,1550.9 864.1,1550.7" fill="#fff" stroke="none"/>
<path d="M878.1,1534.6C877,1533 874,1527.5 871.5,1525C868.9,1522.5 865.6,1520.1 862.6,1519.9C859.7,1519.6 856.3,1521 853.8,1523.5C851.4,1526.1 848.7,1531.6 847.9,1535.3C847.2,1539 847.5,1542.9 849.4,1545.6C851.4,1548.3 857.3,1550.6 859.7,1551.5C862.2,1552.3 863.4,1550.9 864.1,1550.7" />
<ellipse cx="866.8" cy="1540" rx="13.5" ry="8" transform="rotate(-60 866.8 1540)" fill="#fff"/>
<ellipse cx="867.2" cy="1540.2" rx="9.5" ry="5.6" transform="rotate(-60 867.2 1540.2)" />
<path d="M911.9,1554.4L903.1,1568.4L864.1,1546.3L878.1,1534.6Z" fill="#fff" stroke="none"/>
<path d="M878.1,1534.6L911.9,1554.4" />
<path d="M864.1,1546.3L903.1,1568.4" />
<ellipse cx="908.2" cy="1563.2" rx="8.5" ry="5" transform="rotate(-60 908.2 1563.2)" fill="#fff"/>
<ellipse cx="909.1" cy="1563.7" rx="4.5" ry="2.7" transform="rotate(-60 909.1 1563.7)" />
<path class="dh" d="M965.1,1596.5L990,1611"/><path class="d" d="M965.1,1596.5L990,1611" />
<path class="dh" d="M969.3,1599.3L1012.6,1624.3" style="stroke-dasharray:17.00 16.00 17.00 200.00;stroke-dashoffset:0"/><path class="dh" d="M1012.6,1624.3L1012.6,1482.5" style="stroke-dasharray:17.00 10.36 14.00 10.36 14.00 10.36 14.00 10.36 14.00 10.36 17.00 200.00;stroke-dashoffset:0"/><path class="dh" d="M1012.6,1482.5L1062,1510.5" style="stroke-dasharray:17.00 4.39 14.00 4.39 17.00 200.00;stroke-dashoffset:0"/><path class="d" d="M969.3,1599.3L1012.6,1624.3" style="stroke-dasharray:17.00 16.00 17.00 200.00;stroke-dashoffset:0"/><path class="d" d="M1012.6,1624.3L1012.6,1482.5" style="stroke-dasharray:17.00 10.36 14.00 10.36 14.00 10.36 14.00 10.36 14.00 10.36 17.00 200.00;stroke-dashoffset:0"/><path class="d" d="M1012.6,1482.5L1062,1510.5" style="stroke-dasharray:17.00 4.39 14.00 4.39 17.00 200.00;stroke-dashoffset:0"/>
<path d="M973.6,1582.1A17.1 10.1 -60 0 1 956.6,1611.7L954.4,1610.5A17.1 10.1 -60 0 1 971.5,1580.8Z" fill="#fff" stroke="none"/><path d="M954.4,1610.5A17.1 10.1 -60 0 1 971.5,1580.8M973.6,1582.1L971.5,1580.8M956.6,1611.7L954.4,1610.5" /><ellipse cx="965.1" cy="1596.9" rx="17.1" ry="10.1" transform="rotate(-60 965.1 1596.9)" /><ellipse cx="965.1" cy="1596.9" rx="8.2" ry="4.8" transform="rotate(-60 965.1 1596.9)" /><path d="M968,1589.4A8.2 4.8 -60 0 1 960.1,1603.1" />
<path d="M730.3,242.6V267"/>
<path d="M728.3,207.8L734.7,207.8L734.7,231.6L728,231.6L728,218.1L725.4,220.2L722.4,217.5L727.4,209Z" fill="#000" stroke="none"/>
<path d="M278.1,527V551.2"/>
<text x="278.6" y="585">3</text>
<path d="M379.1,595V620.1"/>
<text x="378.6" y="654.9">4</text>
<path d="M489.4,658.2V682.3"/>
<text x="488.3" y="717.2">2</text>
<path d="M589.6,711.3V735.4"/>
<text x="588.8" y="768.5">7</text>
<path d="M685.5,752.5V776.9"/>
<path d="M675.5,788.2L681.7,788.2L681.7,811.6L675.2,811.6L675.2,798.3L672.6,800.4L669.6,797.7L674.6,789.4Z" fill="#000" stroke="none"/>
<text x="694.1" y="811.6">6</text>
<path d="M794.2,844.6V870.3"/>
<text x="794.5" y="903.8">5</text>
<path d="M924.3,900.2V924.8"/>
<path d="M914.6,936.6L920.9,936.6L920.9,960.1L914.3,960.1L914.3,946.8L911.7,948.8L908.8,946.2L913.7,937.8Z" fill="#000" stroke="none"/>
<text x="934.4" y="960.1">9</text>
<path d="M1039.1,976.1V999.7"/>
<text x="1038.2" y="1034.1">6</text>
<path d="M1127.5,1021.8V1046"/>
<path d="M1115.8,1057L1122.1,1057L1122.1,1080.6L1115.5,1080.6L1115.5,1067.2L1112.9,1069.3L1109.9,1066.6L1114.9,1058.2Z" fill="#000" stroke="none"/>
<text x="1135.2" y="1080.6">5</text>
<path d="M1215.3,1063.7V1088"/>
<text x="1216" y="1122.1">7</text>
<path d="M187.7,1032V1055.5"/>
<path d="M178.6,1067.3L184.9,1067.3L184.9,1090.8L178.3,1090.8L178.3,1077.5L175.7,1079.5L172.8,1076.9L177.7,1068.5Z" fill="#000" stroke="none"/>
<text x="197.4" y="1090.8">7</text>
<path d="M337,1140V1164.6"/>
<path d="M326.2,1175.3L332.2,1175.3L332.2,1197.8L325.9,1197.8L325.9,1185L323.4,1187L320.6,1184.5L325.3,1176.4Z" fill="#000" stroke="none"/>
<text x="346" y="1197.8">4</text>
<path d="M449.6,1213.7V1238.3"/>
<text x="449.6" y="1272.4">8</text>
<path d="M584.4,1298V1321.8"/>
<text x="583.3" y="1357.3">9</text>
<path d="M716.5,1365V1388.6"/>
<path d="M707.1,1401.7L713.1,1401.7L713.1,1424L706.9,1424L706.9,1411.3L704.4,1413.3L701.6,1410.8L706.3,1402.8Z" fill="#000" stroke="none"/>
<path d="M724.4,1401.7L730.4,1401.7L730.4,1424L724.2,1424L724.2,1411.3L721.7,1413.3L718.9,1410.8L723.6,1402.8Z" fill="#000" stroke="none"/>
<path d="M835.2,1436.4V1460"/>
<text x="826.5" y="1493.8">2</text>
<path d="M841.6,1471L847.7,1471L847.7,1493.8L841.3,1493.8L841.3,1480.9L838.8,1482.9L835.9,1480.3L840.7,1472.2Z" fill="#000" stroke="none"/>
<path d="M1054.3,1401.7V1426"/>
<path d="M1044.2,1367.8L1050.2,1367.8L1050.2,1390.4L1043.9,1390.4L1043.9,1377.6L1041.4,1379.6L1038.5,1377L1043.3,1368.9Z" fill="#000" stroke="none"/>
<text x="1063.5" y="1390.4">8</text>
<path d="M859.4,1558V1581.6"/>
<text x="858.8" y="1617.3" style="letter-spacing:-0.5px">20</text>
<path d="M961.5,1625.7V1650"/>
<path d="M951.1,1662.5L957.2,1662.5L957.2,1685.3L950.8,1685.3L950.8,1672.4L948.3,1674.4L945.4,1671.8L950.2,1663.7Z" fill="#000" stroke="none"/>
<text x="970.3" y="1685.3">0</text>
<path d="M1196.7,1663V1687.6"/>
<path d="M1185.5,1699.4L1191.8,1699.4L1191.8,1722.9L1185.2,1722.9L1185.2,1709.6L1182.6,1711.6L1179.7,1709L1184.6,1700.6Z" fill="#000" stroke="none"/>
<text x="1204.2" y="1722.9">2</text>
<path d="M1308.3,1719.7V1745.3"/>
<text x="1307.2" y="1779.4" style="letter-spacing:-2px">22</text>
<path d="M1400,1760.3V1785"/>
<path d="M1389,1796.7L1395,1796.7L1395,1819L1388.8,1819L1388.8,1806.3L1386.3,1808.3L1383.5,1805.8L1388.2,1797.8Z" fill="#000" stroke="none"/>
<text x="1407.5" y="1819">3</text>
<text x="1322" y="2136.7" style="text-anchor:start;font-size:33px">NA6143</text><text x="1442" y="2136.7" style="text-anchor:start;font-weight:normal;font-size:33px">D</text>
</g></svg></body></html>
